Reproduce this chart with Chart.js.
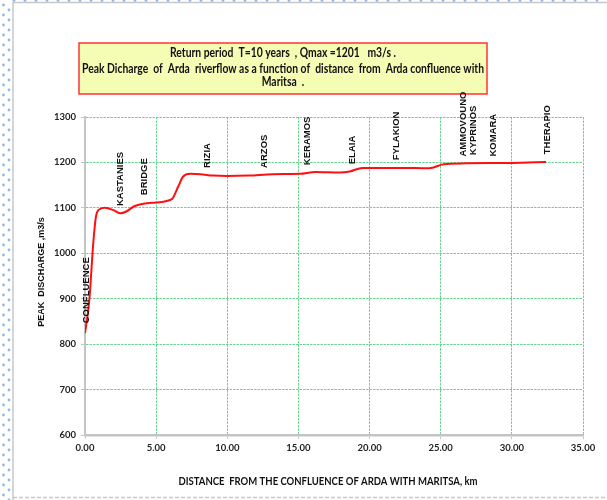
<!DOCTYPE html>
<html>
<head>
<meta charset="utf-8">
<script src="https://cdn.jsdelivr.net/npm/chart.js@4/dist/chart.umd.min.js"></script>
<style>
  html, body { margin: 0; padding: 0; background: #fff; }
  #wrap { position: relative; width: 607px; height: 500px; }
  canvas { display: block; }
</style>
</head>
<body>
<div id="wrap"><canvas id="c" width="607" height="500"></canvas></div>
<script>
// Distance from the Arda / Maritsa confluence (km) and peak discharge (m3/s)
const distanceKm = [0, 0.3, 0.58, 0.77, 1.03, 1.4, 2.0, 2.5, 2.9, 3.5, 5.0, 6.1, 6.55, 6.9, 7.4, 8.1,
  9.0, 10.0, 11.5, 13.2, 15.1, 16.2, 17.9, 18.6, 19.5, 22.1, 24.2, 25.2, 26.8, 30.1, 32.4];
const peakQ = [824, 895, 1022, 1081, 1097, 1100, 1095, 1088, 1092, 1104, 1112, 1119, 1147, 1169, 1175, 1174,
  1171, 1170, 1171, 1174, 1175, 1179, 1178, 1180, 1188, 1188, 1187, 1196, 1198, 1199, 1201];

// Place names along the river and where their names sit
const placeNames = ['CONFLUENCE', 'KASTANIES', 'BRIDGE', 'RIZIA', 'ARZOS', 'KERAMOS', 'ELAIA',
  'FYLAKION', 'AMMOVOUNO', 'KYPRINOS', 'KOMARA', 'THERAPIO'];
const placeKm = [0.07, 2.46, 4.2, 8.6, 12.6, 15.6, 18.8, 21.9, 26.6, 27.3, 28.7, 32.5];
const placeQ = [846, 1104, 1128, 1188, 1188, 1194, 1196, 1205, 1213, 1216, 1213, 1218];

const xTicks = [0, 5, 10, 15, 20, 25, 30, 35];
const yTicks = [600, 700, 800, 900, 1000, 1100, 1200, 1300];

const titleLines = [
  'Return period  T=10 years  , Qmax =1201   m3/s .',
  'Peak Dicharge  of  Arda  riverflow as a function of  distance  from  Arda confluence with',
  'Maritsa  .'
];
const xTitle = 'DISTANCE  FROM THE CONFLUENCE OF ARDA WITH MARITSA, km';
const yTitle = 'PEAK  DISCHARGE ,m3/s';

const GRID = 'rgb(105,212,145)';
const AXIS = '#c4c4c4';

// Draw text squeezed horizontally so a wide font reads like a narrow one
function narrowText(ctx, text, cx, cy, squeeze) {
  ctx.save();
  ctx.translate(cx, cy);
  ctx.scale(squeeze, 1);
  ctx.fillText(text, 0, 0);
  ctx.restore();
}

// Page frame: dotted blue edge on the left and top, grey rules
const framePlugin = {
  id: 'frame',
  beforeDraw(chart) {
    const ctx = chart.ctx;
    ctx.save();
    ctx.fillStyle = '#fff';
    ctx.fillRect(0, 0, chart.width, chart.height);
    ctx.fillStyle = 'rgba(110,160,225,0.75)';
    for (let y = 5; y < 500; y += 10) {
      ctx.beginPath(); ctx.arc(3.5, y, 1.4, 0, Math.PI * 2); ctx.fill();
      ctx.beginPath(); ctx.arc(9, y + 5, 1.4, 0, Math.PI * 2); ctx.fill();
    }
    for (let x = 14; x < 607; x += 11) {
      ctx.beginPath(); ctx.arc(x, 0.5, 1.4, 0, Math.PI * 2); ctx.fill();
    }
    ctx.strokeStyle = '#c8c8c8';
    ctx.lineWidth = 1.5;
    ctx.beginPath();
    ctx.moveTo(13, 500); ctx.lineTo(13, 2.5); ctx.lineTo(607, 2.5);
    ctx.stroke();
    ctx.setLineDash([4, 2]);
    ctx.beginPath(); ctx.moveTo(13, 497.5); ctx.lineTo(607, 497.5); ctx.stroke();
    ctx.restore();
  }
};

// Title box, axis titles and place names
const textPlugin = {
  id: 'texts',
  afterDatasetsDraw(chart) {
    const ctx = chart.ctx;
    const xs = chart.scales.x, ys = chart.scales.y;
    ctx.save();

    // title box
    ctx.fillStyle = '#f4fdb3';
    ctx.fillRect(79, 43, 408, 51);
    ctx.strokeStyle = '#ff3333';
    ctx.lineWidth = 1.5;
    ctx.strokeRect(79, 43, 408, 51);
    ctx.fillStyle = '#111';
    ctx.textAlign = 'center';
    ctx.textBaseline = 'middle';
    ctx.font = 'bold 12.5px Lato';
    const titleSqueeze = 402 / ctx.measureText(titleLines[1]).width;
    const rows = [52.5, 69, 82];
    titleLines.forEach((t, i) => narrowText(ctx, t, 283, rows[i], titleSqueeze));

    // x axis title
    ctx.font = 'bold 11.5px Lato';
    const xSqueeze = 299 / ctx.measureText(xTitle).width;
    narrowText(ctx, xTitle, 328, 481, xSqueeze);

    // y axis title
    ctx.save();
    ctx.translate(42, 272);
    ctx.rotate(-Math.PI / 2);
    ctx.font = 'bold 9px "Liberation Sans"';
    ctx.fillText(yTitle, 0, 0);
    ctx.restore();

    // place names, written upward from their anchor
    ctx.font = 'bold 9.5px "Liberation Sans"';
    ctx.textAlign = 'left';
    ctx.textBaseline = 'middle';
    placeNames.forEach((name, i) => {
      const px = xs.getPixelForValue(placeKm[i]);
      const py = ys.getPixelForValue(placeQ[i]);
      ctx.save();
      ctx.translate(px, py);
      ctx.rotate(-Math.PI / 2);
      ctx.fillText(name, 0, 0);
      ctx.restore();
    });
    ctx.restore();
  }
};

new Chart(document.getElementById('c'), {
  type: 'line',
  data: {
    datasets: [{
      data: distanceKm.map((d, i) => ({ x: d, y: peakQ[i] })),
      borderColor: '#ff1010',
      borderWidth: 2,
      pointRadius: 0,
      fill: false,
      cubicInterpolationMode: 'monotone'
    }]
  },
  options: {
    responsive: false,
    animation: false,
    devicePixelRatio: 1,
    layout: { padding: { left: 0, right: 24, top: 117, bottom: 0 } },
    plugins: { legend: { display: false }, tooltip: { enabled: false }, title: { display: false } },
    scales: {
      x: {
        type: 'linear',
        min: xTicks[0],
        max: xTicks[xTicks.length - 1],
        afterBuildTicks(s) { s.ticks = xTicks.map(v => ({ value: v })); },
        afterFit(s) { s.height = 65; },
        ticks: {
          callback: v => v.toFixed(2),
          font: { family: 'Lato', size: 9.5, weight: 'bold' },
          color: '#222',
          padding: 3,
          maxRotation: 0
        },
        grid: { color: GRID, lineWidth: 1, tickLength: 4, tickColor: AXIS },
        border: { color: AXIS, width: 2.5, dash: [2.5, 1] }
      },
      y: {
        min: yTicks[0],
        max: yTicks[yTicks.length - 1],
        afterBuildTicks(s) { s.ticks = yTicks.map(v => ({ value: v })); },
        afterFit(s) { s.width = 85; },
        ticks: {
          callback: v => String(v),
          font: { family: 'Lato', size: 9.5, weight: 'bold' },
          color: '#222',
          padding: 5
        },
        grid: { color: GRID, lineWidth: 1, tickLength: 4, tickColor: AXIS },
        border: { color: AXIS, width: 2, dash: [2.5, 1] }
      }
    }
  },
  plugins: [framePlugin, textPlugin]
});
</script>
</body>
</html>
